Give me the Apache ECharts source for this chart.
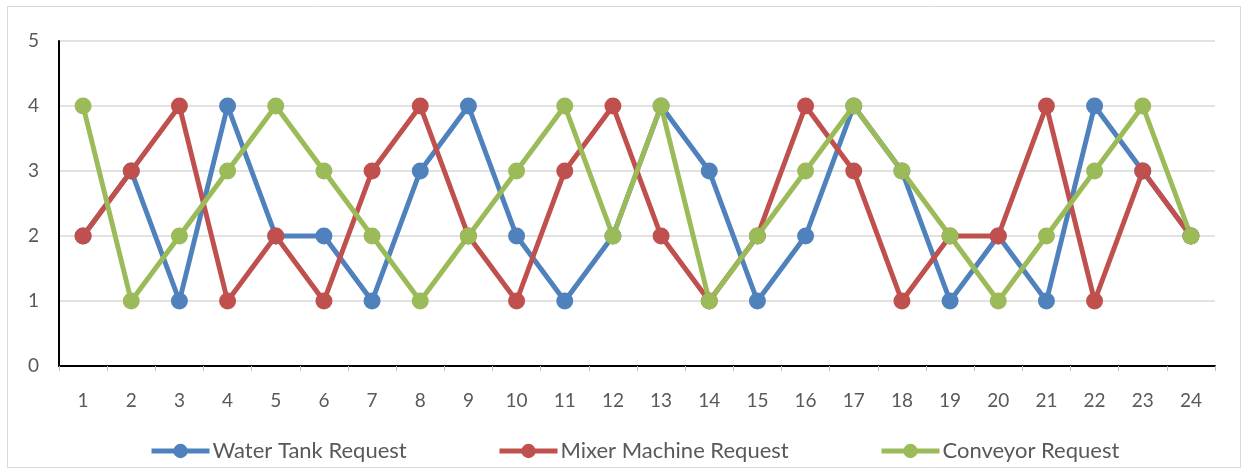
<!DOCTYPE html>
<html>
<head>
<meta charset="utf-8">
<script src="https://cdn.jsdelivr.net/npm/echarts@6/dist/echarts.min.js"></script>
<style>
  html, body { margin: 0; padding: 0; background: #fff; }
  #chart { width: 1242px; height: 470px; }
</style>
</head>
<body>
<div id="chart"></div>
<script>
// Request sequence over 24 steps for each station
const steps = ['1','2','3','4','5','6','7','8','9','10','11','12','13','14','15','16','17','18','19','20','21','22','23','24'];
const waterTank = [2, 3, 1, 4, 2, 2, 1, 3, 4, 2, 1, 2, 4, 3, 1, 2, 4, 3, 1, 2, 1, 4, 3, 2];
const mixerMachine = [2, 3, 4, 1, 2, 1, 3, 4, 2, 1, 3, 4, 2, 1, 2, 4, 3, 1, 2, 2, 4, 1, 3, 2];
const conveyor = [4, 1, 2, 3, 4, 3, 2, 1, 2, 3, 4, 2, 4, 1, 2, 3, 4, 3, 2, 1, 2, 3, 4, 2];
const seriesNames = ['Water Tank Request', 'Mixer Machine Request', 'Conveyor Request'];

const FONT = 'Lato, "Open Sans", sans-serif';
const TEXT = '#595959';
const COLORS = ['#4f81bd', '#c0504d', '#9bbb59'];

function lineSeries(name, data, color) {
  return {
    name: name,
    type: 'line',
    data: data,
    symbol: 'circle',
    symbolSize: 17,
    showAllSymbol: true,
    lineStyle: { width: 5, color: color },
    itemStyle: { color: color },
    emphasis: { disabled: true },
    animation: false
  };
}

// one legend block per series so each entry sits at its own spot
const legendLefts = [149, 497, 879];
const legends = seriesNames.map((n, i) => ({
  data: [n],
  left: legendLefts[i],
  top: 440,
  padding: 0,
  itemWidth: 58,
  itemHeight: 18,
  itemGap: 0,
  lineStyle: { width: 5 },
  textStyle: { fontFamily: FONT, fontSize: 22, color: TEXT, padding: [0, 0, 0, -2] }
}));

const chart = echarts.init(document.getElementById('chart'), null, { renderer: 'canvas' });
chart.setOption({
  backgroundColor: '#fff',
  graphic: [{
    type: 'rect',
    shape: { x: 7.5, y: 6.5, width: 1233, height: 461 },
    style: { fill: 'none', stroke: '#d9d9d9', lineWidth: 1 },
    silent: true
  }],
  grid: { left: 59, right: 27, top: 41, bottom: 104 },
  legend: legends,
  xAxis: {
    type: 'category',
    data: steps,
    boundaryGap: true,
    axisLine: { lineStyle: { color: '#000', width: 2 } },
    axisTick: { show: true, alignWithLabel: false, length: 5, lineStyle: { color: '#bfbfbf' } },
    axisLabel: { fontFamily: FONT, fontSize: 19, color: TEXT, margin: 25 },
    splitLine: { show: false }
  },
  yAxis: {
    type: 'value',
    min: 0,
    max: 5,
    interval: 1,
    axisLine: { show: true, lineStyle: { color: '#000', width: 2 } },
    axisTick: { show: false },
    axisLabel: { fontFamily: FONT, fontSize: 19, color: TEXT, margin: 20 },
    splitLine: { lineStyle: { color: '#d9d9d9', width: 1.5 } }
  },
  series: seriesNames.map((n, i) => lineSeries(n, [waterTank, mixerMachine, conveyor][i], COLORS[i]))
});
</script>
</body>
</html>
